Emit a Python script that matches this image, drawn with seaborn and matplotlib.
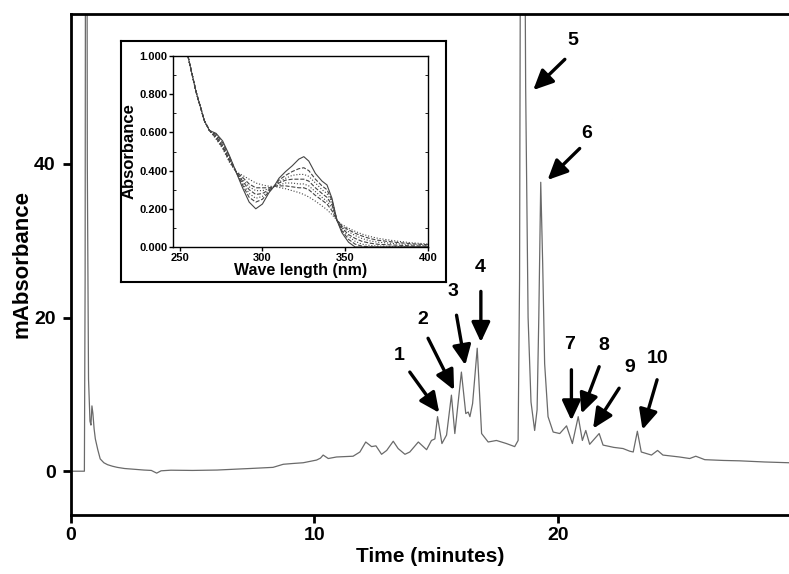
import matplotlib
matplotlib.use("Agg")
import matplotlib.pyplot as plt
import seaborn as sns
import pandas as pd

# chromatogram (time in minutes, mAbsorbance)
time_min = [0.0, 0.55, 0.58, 0.61, 0.64, 0.67, 0.72, 0.78, 0.82, 0.86,
            0.90, 0.95, 1.0, 1.1, 1.2, 1.35, 1.5, 1.7, 1.9, 2.2,
            2.6, 3.0, 3.3, 3.52, 3.7, 4.1, 5.0, 6.0, 7.0, 7.35,
            8.3, 8.72, 9.1, 9.54, 10.09, 10.25, 10.36, 10.57, 10.91, 11.59,
            11.87, 12.11, 12.35, 12.53, 12.76, 12.97, 13.24, 13.44, 13.72, 13.92,
            14.27, 14.61, 14.81, 14.95, 15.06, 15.24, 15.43, 15.63, 15.77, 16.04,
            16.22, 16.32, 16.39, 16.5, 16.69, 16.87, 17.14, 17.48, 17.89, 18.23,
            18.37, 18.43, 18.48, 18.55, 18.62, 18.68, 18.78, 18.9, 19.05, 19.15,
            19.22, 19.3, 19.38, 19.46, 19.6, 19.81, 20.08, 20.36, 20.6, 20.84,
            21.01, 21.15, 21.31, 21.7, 21.86, 22.3, 22.68, 22.96, 23.1, 23.27,
            23.43, 23.85, 24.1, 24.32, 25.0, 25.42, 25.67, 26.04, 26.8, 27.47,
            28.5, 29.5]
m_absorbance = [0.0, 0.0, 25, 120, 120, 40, 12, 6.5, 6.0, 8.5,
                7.5, 5.5, 4.2, 2.8, 1.6, 1.1, 0.85, 0.65, 0.5, 0.35,
                0.25, 0.15, 0.1, -0.25, 0.05, 0.13, 0.1, 0.15, 0.3, 0.35,
                0.5, 0.9, 1.0, 1.1, 1.45, 1.7, 2.1, 1.65, 1.85, 1.95,
                2.5, 3.8, 3.2, 3.3, 2.2, 2.7, 3.9, 2.95, 2.2, 2.5,
                3.8, 2.8, 4.0, 4.2, 7.1, 3.6, 4.7, 9.9, 4.9, 12.9,
                7.5, 7.7, 7.1, 8.8, 16.0, 4.9, 3.8, 4.0, 3.6, 3.2,
                4.0, 25, 90, 130, 90, 50, 20, 9, 5.3, 8,
                20, 37.6, 27, 14, 7.1, 5.1, 4.9, 5.9, 3.6, 7.1,
                4.0, 5.3, 3.5, 4.9, 3.4, 3.1, 2.95, 2.6, 2.5, 5.2,
                2.5, 2.1, 2.7, 2.1, 1.85, 1.65, 1.95, 1.5, 1.4, 1.35,
                1.2, 1.1]

# UV spectra of the inset
wavelength = [255, 260, 265, 268, 272, 276, 280, 284, 288, 292,
              296, 300, 304, 307, 310, 314, 318, 322, 325, 328,
              332, 336, 339, 342, 345, 348, 352, 356, 360, 365,
              370, 380, 390, 400]
spec_1 = [1.00, 0.81, 0.66, 0.61, 0.595, 0.555, 0.48, 0.395, 0.31, 0.235,
          0.20, 0.225, 0.285, 0.317, 0.36, 0.395, 0.425, 0.46, 0.473, 0.45,
          0.385, 0.345, 0.325, 0.255, 0.14, 0.075, 0.025, 0.0, 0.0, 0.0,
          0.0, 0.0, 0.0, 0.0]
spec_2 = [1.00, 0.81, 0.66, 0.61, 0.59, 0.545, 0.475, 0.395, 0.325, 0.26,
          0.235, 0.25, 0.29, 0.317, 0.35, 0.375, 0.395, 0.41, 0.415, 0.40,
          0.355, 0.32, 0.30, 0.245, 0.14, 0.085, 0.04, 0.015, 0.005, 0.0,
          0.0, 0.0, 0.0, 0.0]
spec_3 = [1.00, 0.81, 0.66, 0.61, 0.585, 0.535, 0.47, 0.395, 0.335, 0.28,
          0.255, 0.265, 0.295, 0.317, 0.34, 0.36, 0.375, 0.38, 0.38, 0.37,
          0.335, 0.30, 0.28, 0.235, 0.14, 0.09, 0.055, 0.03, 0.015, 0.008,
          0.005, 0.003, 0.002, 0.002]
spec_4 = [1.00, 0.81, 0.66, 0.61, 0.58, 0.53, 0.46, 0.395, 0.345, 0.30,
          0.275, 0.28, 0.30, 0.317, 0.335, 0.35, 0.355, 0.355, 0.355, 0.345,
          0.31, 0.28, 0.26, 0.22, 0.14, 0.10, 0.065, 0.045, 0.03, 0.02,
          0.014, 0.01, 0.006, 0.005]
spec_5 = [1.00, 0.81, 0.66, 0.61, 0.575, 0.525, 0.455, 0.395, 0.355, 0.315,
          0.295, 0.295, 0.305, 0.317, 0.325, 0.335, 0.335, 0.33, 0.33, 0.32,
          0.29, 0.26, 0.24, 0.205, 0.14, 0.105, 0.08, 0.06, 0.045, 0.032,
          0.025, 0.018, 0.012, 0.009]
spec_6 = [1.00, 0.81, 0.66, 0.61, 0.57, 0.52, 0.45, 0.395, 0.365, 0.33,
          0.31, 0.31, 0.31, 0.317, 0.32, 0.32, 0.315, 0.31, 0.31, 0.30,
          0.27, 0.245, 0.225, 0.19, 0.14, 0.11, 0.09, 0.072, 0.058, 0.044,
          0.035, 0.025, 0.017, 0.012]
spec_7 = [1.00, 0.81, 0.66, 0.61, 0.565, 0.515, 0.445, 0.395, 0.375, 0.355,
          0.335, 0.325, 0.318, 0.317, 0.312, 0.305, 0.295, 0.285, 0.275, 0.262,
          0.24, 0.215, 0.195, 0.17, 0.14, 0.118, 0.098, 0.082, 0.068, 0.055,
          0.045, 0.032, 0.022, 0.016]
spectra = [spec_1, spec_2, spec_3, spec_4, spec_5, spec_6, spec_7]

# peak annotations: label, label pos, arrow tail, arrow head
peak_labels = ["1", "2", "3", "4", "5", "6", "7", "8", "9", "10"]
label_xy = [(13.5, 13.9), (14.45, 18.7), (15.7, 22.3), (16.8, 25.4), (20.6, 54.9),
            (21.2, 42.9), (20.5, 15.4), (21.9, 15.2), (22.95, 12.4), (24.1, 13.5)]
tail_xy = [(13.92, 12.9), (14.67, 17.3), (15.84, 20.3), (16.84, 23.4), (20.29, 53.6),
           (20.9, 42.0), (20.56, 13.2), (21.7, 13.6), (22.52, 10.8), (24.08, 11.9)]
head_xy = [(15.13, 7.6), (15.74, 10.55), (16.2, 13.8), (16.84, 16.8), (18.99, 49.6),
           (19.58, 37.9), (20.56, 6.6), (20.97, 7.5), (21.45, 5.55), (23.48, 5.4)]

sns.set_style("ticks", {"axes.edgecolor": "black", "text.color": "black",
                        "axes.labelcolor": "black", "xtick.color": "black",
                        "ytick.color": "black"})
plt.rcParams['font.family'] = ['Liberation Sans', 'DejaVu Sans']
plt.rcParams['font.weight'] = 'bold'

fig = plt.figure(figsize=(7.89, 5.74), dpi=100)
ax = fig.add_axes([71 / 789, 1 - 515 / 574, (789 - 71) / 789, (515 - 14) / 574])

df = pd.DataFrame({"t": time_min, "mAU": m_absorbance})
sns.lineplot(data=df, x="t", y="mAU", ax=ax, color="#6a6a6a", lw=0.9,
             estimator=None, sort=False)

ax.set_xlim(0, 29.5)
ax.set_ylim(-5.7, 59.5)
ax.set_xticks([0, 10, 20])
ax.set_yticks([0, 20, 40])
ax.tick_params(axis='both', direction='out', length=6, width=2, labelsize=14)
ax.tick_params(axis='y', pad=5)
ax.tick_params(axis='x', pad=3)
for lab in ax.get_xticklabels() + ax.get_yticklabels():
    lab.set_fontweight('bold')
for s in ['left', 'bottom', 'top']:
    ax.spines[s].set_linewidth(2)
ax.spines['right'].set_visible(False)
ax.set_xlabel("Time (minutes)", fontsize=15, fontweight='bold')
ax.set_ylabel("mAbsorbance", fontsize=16, fontweight='bold')
ax.xaxis.set_label_coords(0.5, -0.063)
ax.yaxis.set_label_coords(-0.054, 0.5)

for lab, lxy, txy, hxy in zip(peak_labels, label_xy, tail_xy, head_xy):
    ax.annotate("", xy=hxy, xytext=txy,
                arrowprops=dict(arrowstyle="-|>,head_length=0.6,head_width=0.28",
                                lw=2.4, color="black", shrinkA=0, shrinkB=0,
                                mutation_scale=20))
    ax.text(lxy[0], lxy[1], lab, fontsize=14, fontweight='bold',
            ha='center', va='bottom')

# inset frame
frame = fig.add_axes([121 / 789, 1 - 282 / 574, (446 - 121) / 789, (282 - 41) / 574])
frame.set_xticks([])
frame.set_yticks([])
frame.set_facecolor("white")
for s in frame.spines.values():
    s.set_linewidth(1.5)

ins = fig.add_axes([173 / 789, 1 - 247 / 574, (428 - 173) / 789, (247 - 56) / 574])
styles = ['-', '--', ':', '--', ':', '--', ':']
for spec, ls in zip(spectra, styles):
    sns.lineplot(x=wavelength, y=spec, ax=ins, color="#444444", lw=0.8,
                 linestyle=ls, estimator=None, sort=False)
ins.set_xlim(246, 400)
ins.set_ylim(0, 1)
ins.set_xticks([250, 300, 350, 400])
ins.set_yticks([0, 0.2, 0.4, 0.6, 0.8, 1.0])
ins.set_yticklabels(["0.000", "0.200", "0.400", "0.600", "0.800", "1.000"])
ins.set_yticks([0.1, 0.3, 0.5, 0.7, 0.9], minor=True)
ins.tick_params(axis='both', which='major', direction='out', length=3, width=1,
                labelsize=8, pad=1)
ins.tick_params(axis='y', which='minor', direction='in', length=2, width=0.6,
                right=True)
for lab in ins.get_xticklabels() + ins.get_yticklabels():
    lab.set_fontweight('bold')
for s in ins.spines.values():
    s.set_linewidth(1)
ins.set_xlabel("Wave length (nm)", fontsize=11.5, fontweight='bold', labelpad=0)
ins.set_ylabel("Absorbance", fontsize=12, fontweight='bold', labelpad=2)

fig.savefig("out.png", dpi=100)
